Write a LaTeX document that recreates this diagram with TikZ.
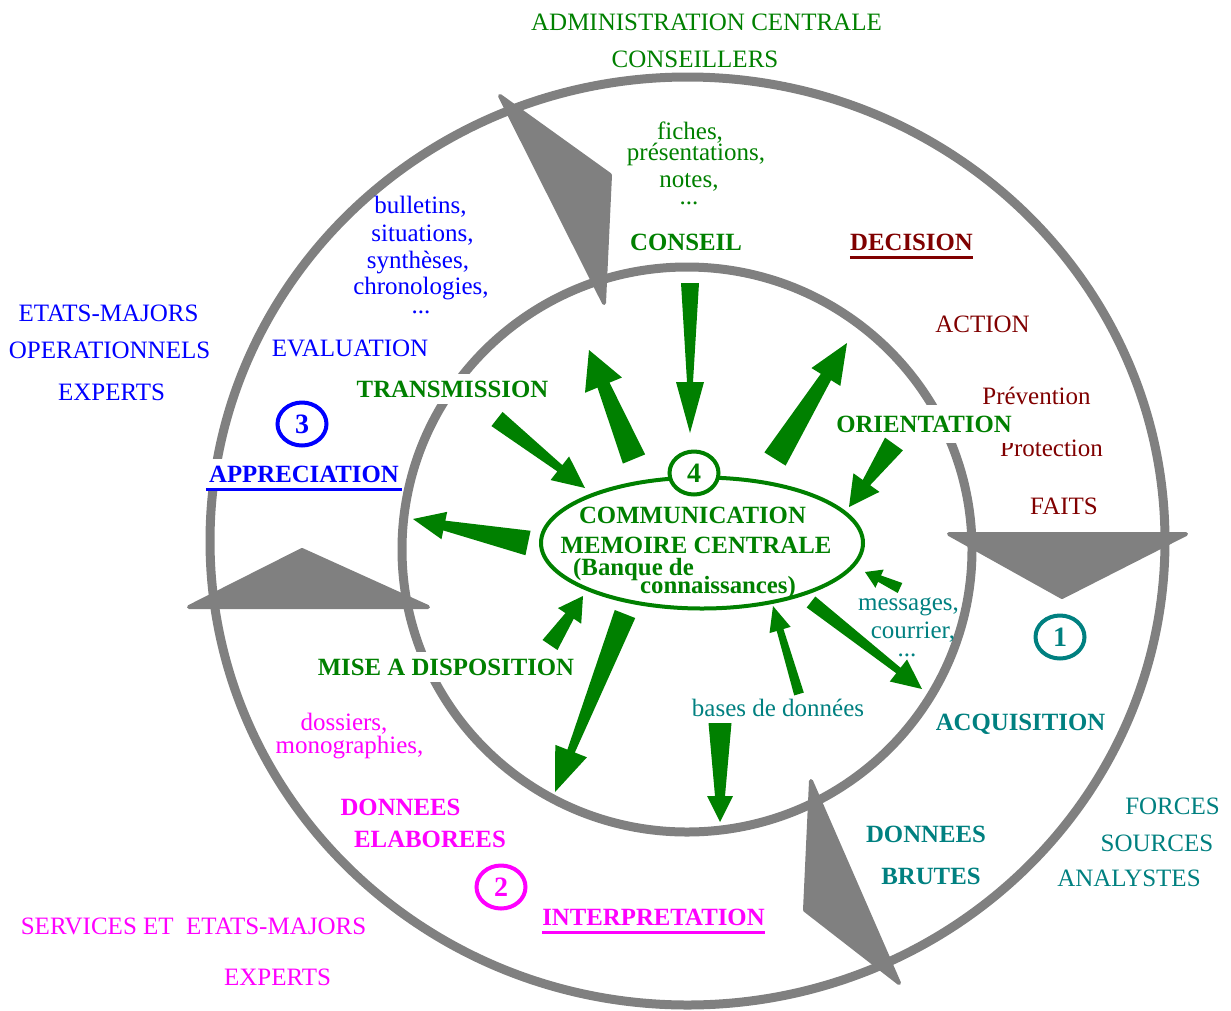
\documentclass[tikz,border=0pt]{standalone}
\usepackage{fontspec}
\setmainfont{Liberation Serif}
\usetikzlibrary{calc,shapes.geometric}
\definecolor{gg}{HTML}{008000}
\definecolor{bb}{HTML}{0000FF}
\definecolor{mm}{HTML}{FF00FF}
\definecolor{rr}{HTML}{800000}
\definecolor{tt}{HTML}{008080}
\definecolor{ring}{HTML}{808080}
% tapered block arrow: start, tip, start width, neck width, head width, head length
\newcommand\garrow[6]{%
  \coordinate (gN) at ($(#2)!#6pt!(#1)$);
  \fill[gg] ($(#1)!{0.5*#3pt}!90:(#2)$) -- ($(gN)!{0.5*#4pt}!90:(#2)$) --
    ($(gN)!{0.5*#5pt}!90:(#2)$) -- (#2) -- ($(gN)!{0.5*#5pt}!-90:(#2)$) --
    ($(gN)!{0.5*#4pt}!-90:(#2)$) -- ($(#1)!{0.5*#3pt}!-90:(#2)$) -- cycle;}
\newcommand\ulinenode[2]{%
  \draw[#2, line width=3pt] ([yshift=-7pt]#1.base west) -- ([yshift=-7pt]#1.base east);}
\tikzset{
  txt/.style={inner sep=0pt, font=\fontsize{25}{27}\selectfont, anchor=base},
  bld/.style={inner sep=0pt, font=\fontsize{24.8}{27}\selectfont\bfseries, anchor=base},
  wbg/.style={fill=white, inner xsep=3pt, inner ysep=7pt},
  ringline/.style={draw=ring, line width=9pt},
  gtri/.style={fill=ring, draw=ring, line width=4pt, line join=round},
  numc/.style={ellipse, line width=4pt, minimum width=49pt, minimum height=43pt,
    inner sep=0pt, font=\fontsize{28}{30}\selectfont\bfseries},
}
\begin{document}
\begin{tikzpicture}[x=1pt,y=-1pt]
\useasboundingbox (0,0) rectangle (1231,1010);
% rings
\draw[ringline] (687.5,541) ellipse [x radius=477.5pt, y radius=464pt];
\draw[ringline] (687,549.5) ellipse [x radius=285pt, y radius=282.5pt];
% gray ring arrows
\filldraw[gtri] (500,96) -- (610,175) -- (604,303) -- cycle;
\filldraw[gtri] (302,550) -- (189,607) -- (428,607) -- cycle;
\filldraw[gtri] (949,534) -- (1186,534) -- (1062,597) -- cycle;
\filldraw[gtri] (811,781) -- (805,910) -- (899,983) -- cycle;

% top texts
\node[txt, gg] (adm) at (706.5,30) {ADMINISTRATION CENTRALE};
\node[txt, gg] (cons) at (695,67) {CONSEILLERS};
\node[txt, gg] (fi1) at (690,139) {fiches,};
\node[txt, gg] (fi2) at (696,160) {présentations,};
\node[txt, gg] (fi3) at (689,187) {notes,};
\node[txt, gg] (fi4) at (689,204) {...};
\node[bld, gg] (conseil) at (686,250) {CONSEIL};
\node[bld, rr] (dec) at (911.5,250) {DECISION};
\ulinenode{dec}{rr}
\node[txt, rr] (act) at (982.5,332) {ACTION};
\node[txt, rr] (prev) at (1036.5,404) {Prévention};
\node[txt, rr] (prot) at (1051.5,456) {Protection};
\node[bld, gg, wbg, inner ysep=11pt] (orient) at (924,432) {ORIENTATION};
\node[txt, rr] (faits) at (1064,514) {FAITS};

% left texts
\node[txt, bb] (em1) at (108.5,321) {ETATS-MAJORS};
\node[txt, bb] (em2) at (109.5,358) {OPERATIONNELS};
\node[txt, bb] (em3) at (111.5,400) {EXPERTS};
\node[txt, bb] (bu1) at (420.5,213) {bulletins,};
\node[txt, bb] (bu2) at (422.5,241) {situations,};
\node[txt, bb] (bu3) at (418,268) {synthèses,};
\node[txt, bb] (bu4) at (421,294) {chronologies,};
\node[txt, bb] (bu5) at (421,313) {...};
\node[txt, bb] (eval) at (350,356) {EVALUATION};
\node[bld, gg, wbg] (trans) at (452.5,397) {TRANSMISSION};
\node[numc, draw=bb, text=bb] (c3) at (302,424) {3};
\node[bld, bb, wbg] (appr) at (304,482) {APPRECIATION};
\ulinenode{appr}{bb}

% right texts
\node[txt, tt] (me1) at (908.5,610) {messages,};
\node[txt, tt] (me2) at (913,638) {courrier,};
\node[txt, tt] (me3) at (907,656) {...};
\node[numc, draw=tt, text=tt] (c1) at (1060,637) {1};
\node[bld, tt] (acq) at (1020.5,730) {ACQUISITION};
\node[txt, tt] (bdd) at (778,716) {bases de données};
\node[bld, tt] (db1) at (926,842) {DONNEES};
\node[bld, tt] (db2) at (931,884) {BRUTES};
\node[txt, tt] (fo1) at (1172.5,814) {FORCES};
\node[txt, tt] (fo2) at (1157,851) {SOURCES};
\node[txt, tt] (fo3) at (1129,886) {ANALYSTES};

% bottom-left texts
\node[bld, gg, wbg] (mise) at (446,675) {MISE A DISPOSITION};
\node[txt, mm] (do1) at (344,730) {dossiers,};
\node[txt, mm] (do2) at (349.5,753) {monographies,};
\node[bld, mm] (de1) at (400.5,815) {DONNEES};
\node[bld, mm] (de2) at (430,847) {ELABOREES};
\node[numc, draw=mm, text=mm] (c2) at (501,887) {2};
\node[bld, mm] (interp) at (653.5,925) {INTERPRETATION};
\ulinenode{interp}{mm}
\node[txt, mm] (se1) at (193.5,934) {SERVICES ET\ \ ETATS-MAJORS};
\node[txt, mm] (se2) at (277.5,985) {EXPERTS};

% green arrows
\coordinate (a1s) at (690,283);  \coordinate (a1t) at (690,433);
\coordinate (a2s) at (634,459);  \coordinate (a2t) at (589,350);
\coordinate (a3s) at (775,459);  \coordinate (a3t) at (847,343);
\coordinate (a4s) at (497,419);  \coordinate (a4t) at (585,488);
\coordinate (a5s) at (528,543);  \coordinate (a5t) at (413,519);
\coordinate (a6s) at (894,444);  \coordinate (a6t) at (849,507);
\coordinate (a7s) at (900,588);  \coordinate (a7t) at (865,572);
\coordinate (a8s) at (811,602);  \coordinate (a8t) at (922,689);
\coordinate (a9s) at (799,694);  \coordinate (a9t) at (773,606);
\coordinate (a10s) at (720,723); \coordinate (a10t) at (720,822);
\coordinate (a11s) at (625,614); \coordinate (a11t) at (555,792);
\coordinate (a12s) at (550,645); \coordinate (a12t) at (583,596);
\garrow{a1s}{a1t}{18}{6}{28}{51}
\garrow{a2s}{a2t}{24}{13}{40}{38}
\garrow{a3s}{a3t}{25}{12}{34}{40}
\garrow{a4s}{a4t}{18}{8}{30}{32}
\garrow{a5s}{a5t}{25}{10}{28}{32}
\garrow{a6s}{a6t}{22}{9}{32}{30}
\garrow{a7s}{a7t}{11}{7}{20}{16}
\garrow{a8s}{a8t}{14}{7}{28}{30}
\garrow{a9s}{a9t}{10}{7}{22}{25}
\garrow{a10s}{a10t}{23}{10}{26}{26}
\garrow{a11s}{a11t}{22}{8}{34}{44}
\garrow{a12s}{a12t}{18}{10}{28}{24}

% central ellipse
\node[ellipse, draw=gg, line width=4pt, minimum width=322pt, minimum height=131pt] (mem) at (702,543) {};
\node[bld, gg] (com1) at (692.5,523) {COMMUNICATION};
\node[bld, gg] (com2) at (696,553) {MEMOIRE CENTRALE};
\node[bld, gg, anchor=base west] (com3) at (573,575) {(Banque de};
\node[bld, gg, anchor=base west] (com4) at (640,593) {connaissances)};
\node[numc, draw=gg, text=gg, fill=white] (c4) at (694,473) {4};
\end{tikzpicture}
\end{document}
